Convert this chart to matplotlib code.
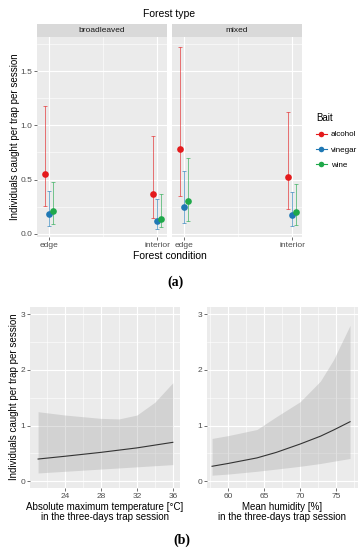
import matplotlib
matplotlib.use("Agg")
from matplotlib import pyplot as plt
from matplotlib.lines import Line2D
import numpy as np

plt.rcParams["font.family"] = ["Liberation Sans", "DejaVu Sans"]

# ---- data: (a) forest type / condition / bait ----
forest_types = ["broadleaved", "mixed"]
conditions = ["edge", "interior"]
baits = ["alcohol", "vinegar", "wine"]

# mean, lower, upper per forest type -> [edge, interior]
alcohol_mean = {"broadleaved": [0.55, 0.37], "mixed": [0.78, 0.52]}
alcohol_low = {"broadleaved": [0.26, 0.15], "mixed": [0.35, 0.23]}
alcohol_high = {"broadleaved": [1.18, 0.90], "mixed": [1.72, 1.12]}
vinegar_mean = {"broadleaved": [0.18, 0.12], "mixed": [0.25, 0.17]}
vinegar_low = {"broadleaved": [0.07, 0.05], "mixed": [0.10, 0.07]}
vinegar_high = {"broadleaved": [0.40, 0.32], "mixed": [0.58, 0.39]}
wine_mean = {"broadleaved": [0.21, 0.14], "mixed": [0.30, 0.20]}
wine_low = {"broadleaved": [0.09, 0.06], "mixed": [0.12, 0.08]}
wine_high = {"broadleaved": [0.48, 0.37], "mixed": [0.70, 0.46]}

# ---- data: (b) model predictions ----
temp_x = [21, 24, 28, 30, 32, 34, 36]
temp_fit = [0.40, 0.45, 0.52, 0.56, 0.60, 0.65, 0.70]
temp_low = [0.15, 0.18, 0.22, 0.24, 0.26, 0.28, 0.30]
temp_high = [1.25, 1.19, 1.13, 1.12, 1.19, 1.42, 1.77]

hum_x = [57.8, 60, 64, 66.7, 70, 72.8, 74.6, 76.9]
hum_fit = [0.27, 0.32, 0.42, 0.52, 0.67, 0.81, 0.92, 1.07]
hum_low = [0.11, 0.13, 0.18, 0.22, 0.27, 0.32, 0.36, 0.41]
hum_high = [0.77, 0.82, 0.93, 1.16, 1.43, 1.80, 2.18, 2.80]

bait_colors = {"alcohol": "#E41A1C", "vinegar": "#1F78B4", "wine": "#1FA84A"}
bait_data = {
    "alcohol": (alcohol_mean, alcohol_low, alcohol_high),
    "vinegar": (vinegar_mean, vinegar_low, vinegar_high),
    "wine": (wine_mean, wine_low, wine_high),
}

PANEL = "#EBEBEB"
TICKC = "#4D4D4D"
W, H = 363, 550


def box(x0, y0, x1, y1):
    # pixel box -> figure fraction rect
    return [x0 / W, 1 - y1 / H, (x1 - x0) / W, (y1 - y0) / H]


def gg_style(ax):
    ax.set_facecolor(PANEL)
    for s in ax.spines.values():
        s.set_visible(False)
    ax.grid(which="major", color="white", lw=0.8)
    ax.grid(which="minor", color="white", lw=0.4)
    ax.set_axisbelow(True)
    ax.tick_params(which="major", length=2, width=0.5, color="#333333",
                   labelsize=6, labelcolor=TICKC, pad=1.5)
    ax.tick_params(which="minor", length=0)


fig = plt.figure(figsize=(3.63, 5.5), dpi=100)

# ---- (a) ----
offsets = [-0.037, 0.0, 0.037]
xpos = np.array([1, 2])
panel_boxes = [(37, 37, 167, 237), (172, 37, 302, 237)]
for i, ft in enumerate(forest_types):
    x0, y0, x1, y1 = panel_boxes[i]
    ax = fig.add_axes(box(x0, y0, x1, y1))
    gg_style(ax)
    for b, off in zip(baits, offsets):
        m, lo, hi = bait_data[b]
        mean = np.array(m[ft])
        yerr = [mean - np.array(lo[ft]), np.array(hi[ft]) - mean]
        ax.errorbar(xpos + off, mean, yerr=yerr, fmt="none", ecolor=bait_colors[b],
                    elinewidth=0.7, capsize=1.5, capthick=0.7, alpha=0.6)
        ax.plot(xpos + off, mean, "o", color=bait_colors[b], ms=4.8, mec="none")
    ax.set_xlim(0.89, 2.09)
    ax.set_ylim(-0.028, 1.813)
    ax.set_xticks(xpos)
    ax.set_xticklabels(conditions)
    ax.set_xticks([1.5], minor=True)
    ax.set_yticks([0.0, 0.5, 1.0, 1.5])
    ax.set_yticks([0.25, 0.75, 1.25, 1.75], minor=True)
    if i == 0:
        ax.set_yticklabels(["0.0", "0.5", "1.0", "1.5"])
    else:
        ax.tick_params(axis="y", which="both", left=False, labelleft=False)
    # strip
    sax = fig.add_axes(box(x0, 24, x1, 37))
    sax.set_facecolor("#D9D9D9")
    sax.set_xticks([])
    sax.set_yticks([])
    for s in sax.spines.values():
        s.set_visible(False)
    sax.text(0.5, 0.5, ft, ha="center", va="center", fontsize=6, color="#1A1A1A",
             transform=sax.transAxes)

fig.text(169.5 / W, 1 - 14 / H, "Forest type", ha="center", va="center", fontsize=7.5)
fig.text(169.5 / W, 1 - 256 / H, "Forest condition", ha="center", va="center", fontsize=7.5)
fig.text(15 / W, 1 - 137 / H, "Individuals caught per trap per session", ha="center",
         va="center", rotation=90, fontsize=7)
fig.text(175 / W, 1 - 282 / H, "(a)", ha="center", va="center", fontsize=10,
         fontweight="bold", family="Liberation Serif")

handles = [Line2D([0], [0], color=bait_colors[b], lw=0.8, marker="o", ms=4, mec="none")
           for b in baits]
leg = fig.legend(handles, baits, loc="upper left", bbox_to_anchor=(312 / W, 1 - 109 / H),
                 title="Bait", frameon=False, fontsize=5.8, title_fontsize=7,
                 handlelength=1.3, handletextpad=0.5, labelspacing=0.95, borderpad=0)
leg._legend_box.align = "left"

# ---- (b) ----
bx = fig.add_axes(box(30, 307, 180, 488))
gg_style(bx)
bx.fill_between(temp_x, temp_low, temp_high, color="#999999", alpha=0.3, lw=0)
bx.plot(temp_x, temp_fit, color="#333333", lw=0.8)
bx.set_xlim(20.1, 36.8)
bx.set_ylim(-0.12, 3.13)
bx.set_xticks([24, 28, 32, 36])
bx.set_xticks([22, 26, 30, 34], minor=True)
bx.set_yticks([0, 1, 2, 3])
bx.set_yticks([0.5, 1.5, 2.5], minor=True)
bx.set_xlabel("Absolute maximum temperature [°C]\nin the three-days trap session",
              fontsize=7, labelpad=1.5, linespacing=1.0)

cx = fig.add_axes(box(207, 307, 358, 488))
gg_style(cx)
cx.fill_between(hum_x, hum_low, hum_high, color="#999999", alpha=0.3, lw=0)
cx.plot(hum_x, hum_fit, color="#333333", lw=0.8)
cx.set_xlim(57.1, 78.0)
cx.set_ylim(-0.12, 3.13)
cx.set_xticks([60, 65, 70, 75])
cx.set_xticks([57.5, 62.5, 67.5, 72.5, 77.5], minor=True)
cx.set_yticks([0, 1, 2, 3])
cx.set_yticks([0.5, 1.5, 2.5], minor=True)
cx.set_xlabel("Mean humidity [%]\nin the three-days trap session",
              fontsize=7, labelpad=1.5, linespacing=1.0)

fig.text(14 / W, 1 - 397 / H, "Individuals caught per trap per session", ha="center",
         va="center", rotation=90, fontsize=7)
fig.text(182 / W, 1 - 540 / H, "(b)", ha="center", va="center", fontsize=10,
         fontweight="bold", family="Liberation Serif")

fig.savefig("out.png", dpi=100)
